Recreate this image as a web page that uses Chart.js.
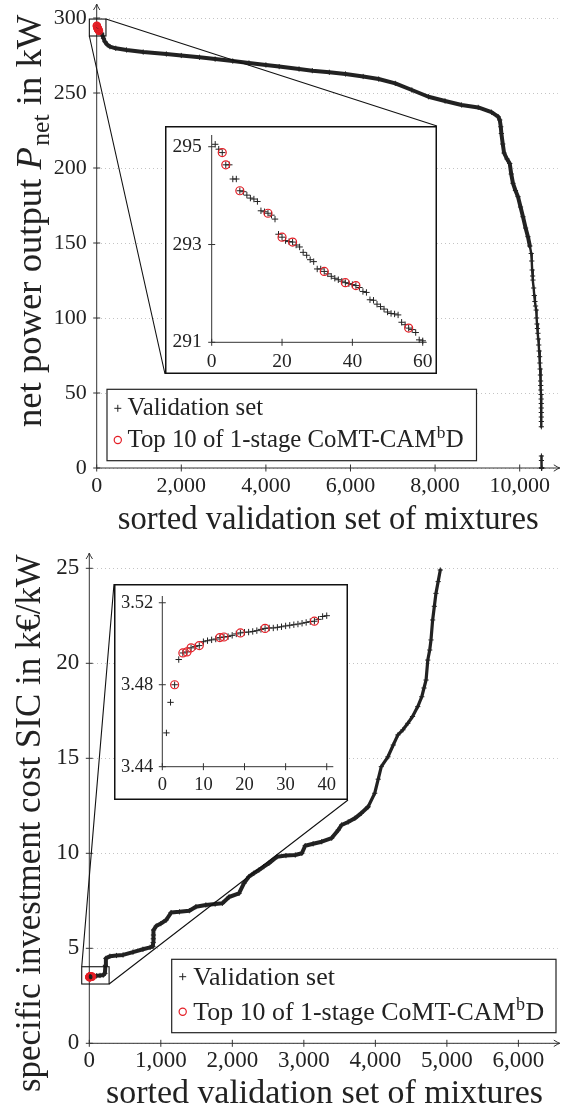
<!DOCTYPE html>
<html>
<head>
<meta charset="utf-8">
<script src="https://cdn.jsdelivr.net/npm/chart.js@4.4.0/dist/chart.umd.min.js"></script>
<style>
html,body{margin:0;padding:0;background:#fff;}
#wrap{position:relative;width:563px;height:1114px;overflow:hidden;background:#fff;}
canvas{position:absolute;display:block;}
</style>
</head>
<body>
<div id="wrap">
  <canvas id="pnetMain"></canvas>
  <canvas id="pnetInset"></canvas>
  <canvas id="sicMain"></canvas>
  <canvas id="sicInset"></canvas>
</div>
<script>
// ================= DATA =================
// --- upper panel: net power output P_net (kW), sorted validation set ---
const pnetHeadIdx = [1,2,3,4,5,6,7,8,9,10,11,12,13,14,15,16,17,18,19,20,21,22,23,24,25,26,27,28,29,30,
                     31,32,33,34,35,36,37,38,39,40,41,42,43,44,45,46,47,48,49,50,51,52,53,54,55,56,57,58,59,60];
const pnetHeadVal = [295.05,294.95,294.88,294.63,294.63,294.34,294.34,294.10,294.08,294.01,
                     293.95,293.93,293.88,293.69,293.67,293.64,293.60,293.52,293.21,293.15,
                     293.08,293.06,293.05,292.99,292.95,292.84,292.78,292.69,292.65,292.50,
                     292.50,292.45,292.40,292.35,292.31,292.28,292.25,292.22,292.20,292.18,
                     292.16,292.12,292.04,292.02,291.87,291.86,291.78,291.73,291.68,291.62,
                     291.59,291.58,291.56,291.41,291.36,291.29,291.26,291.20,291.05,291.03];
const pnetTailIdx = [118,160,195,250,313,450,706,1100,1647,2000,2431,2800,3216,3600,4000,4314,4784,5098,5500,5882,
                     6300,6666,7059,7451,7843,8235,8627,9020,9333,9490,9529,9553,9567,9600,9631,9700,9765,9800,9842,9900,
                     9960,10020,10078,10140,10195,10240,10273,10285,10295,10305,10313,10330,10345,10360,10375,10391,10400,10410,10420,10431,
                     10440,10450,10460,10471,10478,10484,10490,10494,10498,10502,10506,10508,10510,10510,10511,10511,10512,10512,
                     10513,10514,10514,10515,10517,10519,10521];
const pnetTailVal = [289.8,286.5,284.2,282.2,280.9,279.8,278.7,277.3,276.0,275.0,273.8,272.6,271.3,270.0,268.7,267.6,266.0,264.9,263.8,262.7,
                     261.0,259.3,256.4,252.0,247.5,244.7,242.0,240.4,237.2,234.2,232.0,227.5,223.0,216.0,210.0,206.0,203.0,196.0,189.8,185.0,
                     180.9,174.0,167.5,160.0,154.2,148.0,143.0,138.0,132.0,128.0,125.3,120.0,115.0,111.0,108.0,105.3,100.0,96.0,93.0,89.8,
                     86.0,82.0,78.0,74.2,70.0,66.0,62.0,58.0,55.0,52.0,49.0,46.0,43.0,40.0,37.0,34.0,31.0,27.5,
                     null,8.0,5.0,0,0,0,0];
const pnetTop10Idx = [3,4,8,16,20,23,32,38,41,56];
const pnetXTicks = [0,2000,4000,6000,8000,10000];
const pnetYTicks = [0,50,100,150,200,250,300];
const pnetInsetXTicks = [0,20,40,60];
const pnetInsetYTicks = [291,293,295];

// --- lower panel: specific investment cost SIC (k€/kW), sorted validation set ---
const sicHeadIdx = [1,2,3,4,5,6,7,8,9,10,11,12,13,14,15,16,17,18,19,20,
                    21,22,23,24,25,26,27,28,29,30,31,32,33,34,35,36,37,38,39,40];
const sicHeadVal = [3.4565,3.4714,3.4800,3.4923,3.4955,3.4960,3.4980,3.4986,3.4991,3.5010,
                    3.5015,3.5019,3.5023,3.5030,3.5033,3.5035,3.5041,3.5048,3.5053,3.5056,
                    3.5057,3.5060,3.5064,3.5070,3.5075,3.5077,3.5077,3.5080,3.5083,3.5087,
                    3.5090,3.5093,3.5096,3.5100,3.5104,3.5108,3.5110,3.5119,3.5133,3.5137];
const sicTailIdx = [60,100,150,195,218,225,232,288,380,472,611,750,850,889,893,895,897,899,936,1000,
                    1075,1144,1260,1399,1491,1630,1760,1861,1954,2093,2162,2232,2300,2371,2440,2510,2625,2750,2880,2972,
                    3019,3130,3250,3389,3482,3528,3620,3713,3800,3899,3991,4040,4083,4176,4250,4315,4385,4454,4520,4593,
                    4649,4680,4709,4733,4760,4778,4801,4825,4847,4878,4908];
const sicTailVal = [3.52,3.55,3.57,3.59,3.68,4.10,4.47,4.58,4.62,4.65,4.80,4.95,5.05,5.10,5.30,5.50,5.70,5.96,6.17,6.30,
                    6.49,6.88,6.92,6.98,7.19,7.28,7.33,7.37,7.70,7.89,8.42,8.77,8.95,9.12,9.30,9.47,9.82,9.88,9.91,10.00,
                    10.40,10.50,10.61,10.80,11.23,11.49,11.65,11.84,12.10,12.45,13.16,13.90,14.56,15.08,15.70,16.23,16.50,16.84,17.20,17.72,
                    18.24,18.70,19.12,20.17,20.70,21.23,22.28,23.00,23.68,24.30,24.91];
const sicTop10Idx = [3,5,6,7,9,14,15,19,25,37];
const sicXTicks = [0,1000,2000,3000,4000,5000,6000];
const sicYTicks = [0,5,10,15,20,25];
const sicInsetXTicks = [0,10,20,30,40];
const sicInsetYTicks = [3.44,3.48,3.52];

const LABEL_VAL = 'Validation set';
const LABEL_TOP = ['Top 10 of 1-stage CoMT-CAM', 'b', 'D'];

// ================= STYLE / LAYOUT =================
const SERIF = '"Liberation Serif", "DejaVu Serif", serif';
const INK = '#222222';
const AXIS = '#333333';
const RED = 'rgb(228,30,38)';
const GRID = '#c4c4c4';

function pts(idx, val) { return idx.map((x, i) => ({ x: x, y: val[i] })); }
function pick(idx, val, sel) { return sel.map(k => ({ x: k, y: val[idx.indexOf(k)] })); }
const fmtThousands = v => Number(v).toLocaleString('en-US');

function drawYTitle(ctx, parts, baseX, centerY, targetLen) {
  ctx.save();
  let w100 = 0;
  parts.forEach(p => { ctx.font = (p.it ? 'italic ' : '') + (p.sub ? 70 : 100) + 'px ' + SERIF; w100 += ctx.measureText(p.t).width; });
  const s = 100 * targetLen / w100;
  ctx.translate(baseX, centerY);
  ctx.rotate(-Math.PI / 2);
  ctx.fillStyle = INK; ctx.textBaseline = 'alphabetic'; ctx.textAlign = 'left';
  let x = -targetLen / 2;
  parts.forEach(p => {
    const fs = p.sub ? s * 0.7 : s;
    ctx.font = (p.it ? 'italic ' : '') + fs + 'px ' + SERIF;
    ctx.fillText(p.t, x, p.sub ? s * 0.22 : 0);
    x += ctx.measureText(p.t).width + (p.it ? s * 0.04 : 0);
  });
  ctx.restore();
}

function drawXTitle(ctx, text, cx, baseY, targetLen) {
  ctx.save();
  ctx.font = '100px ' + SERIF;
  const s = 100 * targetLen / ctx.measureText(text).width;
  ctx.font = s + 'px ' + SERIF;
  ctx.fillStyle = INK; ctx.textAlign = 'center'; ctx.textBaseline = 'alphabetic';
  ctx.fillText(text, cx, baseY);
  ctx.restore();
}

function drawLegend(ctx, L) {
  ctx.save();
  ctx.fillStyle = '#fff'; ctx.fillRect(L.x, L.y, L.w, L.h);
  ctx.strokeStyle = INK; ctx.lineWidth = 1.2; ctx.strokeRect(L.x, L.y, L.w, L.h);
  ctx.font = '100px ' + SERIF;
  let w = ctx.measureText(LABEL_TOP[0]).width + ctx.measureText(LABEL_TOP[2]).width;
  ctx.font = '70px ' + SERIF; w += ctx.measureText(LABEL_TOP[1]).width;
  const s = 100 * L.target / w;
  ctx.beginPath();
  ctx.moveTo(L.mx - 3.5, L.r1); ctx.lineTo(L.mx + 3.5, L.r1);
  ctx.moveTo(L.mx, L.r1 - 3.5); ctx.lineTo(L.mx, L.r1 + 3.5);
  ctx.lineWidth = 1; ctx.strokeStyle = INK; ctx.stroke();
  ctx.beginPath(); ctx.arc(L.mx, L.r2, 3.6, 0, Math.PI * 2);
  ctx.lineWidth = 1.2; ctx.strokeStyle = RED; ctx.stroke();
  ctx.fillStyle = INK; ctx.textAlign = 'left'; ctx.textBaseline = 'alphabetic';
  ctx.font = s + 'px ' + SERIF;
  ctx.fillText(LABEL_VAL, L.tx, L.b1);
  let x = L.tx;
  ctx.fillText(LABEL_TOP[0], x, L.b2); x += ctx.measureText(LABEL_TOP[0]).width;
  ctx.font = (s * 0.7) + 'px ' + SERIF;
  ctx.fillText(LABEL_TOP[1], x + 0.5, L.b2 - s * 0.38); x += ctx.measureText(LABEL_TOP[1]).width + 1;
  ctx.font = s + 'px ' + SERIF;
  ctx.fillText(LABEL_TOP[2], x, L.b2);
  ctx.restore();
}

function axesPlugin(P) {
  return {
    id: 'pgfAxes',
    beforeDraw(chart) {
      const c = chart.ctx; c.save(); c.fillStyle = '#fff'; c.fillRect(0, 0, chart.width, chart.height); c.restore();
    },
    beforeDatasetsDraw(chart) {
      const c = chart.ctx, a = chart.chartArea, xs = chart.scales.x, ys = chart.scales.y;
      const L = 3.5, ext = P.arrows ? 2 : 0;
      c.save();
      c.strokeStyle = AXIS; c.lineWidth = 1;
      c.beginPath();
      c.moveTo(a.left, a.bottom); c.lineTo(a.right + ext, a.bottom);
      c.moveTo(a.left, a.bottom); c.lineTo(a.left, a.top - ext);
      xs.ticks.forEach(t => { const px = xs.getPixelForValue(t.value); c.moveTo(px, a.bottom - L); c.lineTo(px, a.bottom + L); });
      ys.ticks.forEach(t => { const py = ys.getPixelForValue(t.value); c.moveTo(a.left - L, py); c.lineTo(a.left + L, py); });
      c.stroke();
      if (P.arrows) {
        const tx = a.right + ext, ty = a.top - ext;
        c.beginPath();
        c.moveTo(tx - 6, a.bottom - 3.2); c.quadraticCurveTo(tx - 2, a.bottom - 0.6, tx, a.bottom); c.quadraticCurveTo(tx - 2, a.bottom + 0.6, tx - 6, a.bottom + 3.2);
        c.moveTo(a.left - 3.2, ty + 6); c.quadraticCurveTo(a.left - 0.6, ty + 2, a.left, ty); c.quadraticCurveTo(a.left + 0.6, ty + 2, a.left + 3.2, ty + 6);
        c.stroke();
      }
      c.restore();
    },
    afterDraw(chart) {
      if (P.frame) {
        const c = chart.ctx; c.save(); c.strokeStyle = '#111'; c.lineWidth = 1.5;
        c.strokeRect(0.75, 0.75, chart.width - 1.5, chart.height - 1.5); c.restore();
      }
      if (P.extra) P.extra(chart);
    }
  };
}

function buildChart(id, P) {
  const cv = document.getElementById(id);
  cv.width = P.w; cv.height = P.h;
  cv.style.left = P.left + 'px'; cv.style.top = P.top + 'px';
  cv.style.width = P.w + 'px'; cv.style.height = P.h + 'px';
  return new Chart(cv, {
    type: 'scatter',
    data: { datasets: P.datasets },
    options: {
      responsive: false, animation: false, devicePixelRatio: 1, events: [],
      layout: { padding: { left: 0, top: P.area.top, right: P.w - P.area.right, bottom: 0 } },
      plugins: { legend: { display: false }, tooltip: { enabled: false }, title: { display: false } },
      scales: {
        x: {
          type: 'linear', min: P.xMin, max: P.xMax,
          afterBuildTicks: s => { s.ticks = P.xTicks.map(v => ({ value: v })); },
          afterFit: s => { s.height = P.h - P.area.bottom; s.paddingLeft = 0; s.paddingRight = 0; },
          grid: { display: false, drawTicks: false }, border: { display: false },
          ticks: { autoSkip: false, maxRotation: 0, minRotation: 0, padding: P.xPad, color: INK,
                   font: { family: SERIF, size: P.tickSize }, callback: P.xFmt }
        },
        y: {
          type: 'linear', min: P.yMin, max: P.yMax,
          afterBuildTicks: s => { s.ticks = P.yTicks.map(v => ({ value: v })); },
          afterFit: s => { s.width = P.area.left; s.paddingTop = 0; s.paddingBottom = 0; },
          grid: { display: !!P.grid, drawTicks: false, color: GRID, lineWidth: 1 },
          border: { display: false, dash: [1, 3] },
          ticks: { autoSkip: false, padding: P.yPad, color: INK,
                   font: { family: SERIF, size: P.tickSize }, callback: P.yFmt }
        }
      }
    },
    plugins: [axesPlugin(P)]
  });
}

function validationSet(data, lw, thinW, thin) {
  return {
    label: LABEL_VAL, data: data, order: 1, clip: false,
    showLine: true, borderColor: INK, borderWidth: lw, borderCapStyle: 'round', borderJoinStyle: 'round',
    segment: { borderWidth: c => thin(c) ? thinW : lw },
    pointStyle: 'cross', pointRadius: 2.6, pointBorderWidth: 1, pointBorderColor: INK, pointBackgroundColor: INK
  };
}
function crossSet(data, r) {
  return { label: LABEL_VAL, data: data, order: 1, clip: false, showLine: false,
           pointStyle: 'cross', pointRadius: r, pointBorderWidth: 1, pointBorderColor: INK, pointBackgroundColor: INK };
}
function top10Set(data, r) {
  return { label: LABEL_TOP.join(''), data: data, order: 0, clip: false, showLine: false,
           pointStyle: 'circle', pointRadius: r, pointBorderWidth: 1.2, pointBorderColor: RED,
           pointBackgroundColor: 'rgba(255,255,255,0)' };
}

// ---------- upper panel ----------
const pnetIdx = pnetHeadIdx.concat(pnetTailIdx);
const pnetVal = pnetHeadVal.concat(pnetTailVal);
const PNET_INSET = { left: 165, top: 126, w: 272, h: 248 };
const PNET_SPY = { x0: -174, x1: 219, y0: 288, y1: 299.3 };

buildChart('pnetMain', {
  left: 0, top: 0, w: 563, h: 540,
  area: { left: 96.7, top: 6, right: 560, bottom: 468 },
  xMin: 0, xMax: 10901, yMin: 0, yMax: 308,
  xTicks: pnetXTicks, yTicks: pnetYTicks, xFmt: fmtThousands, yFmt: v => String(v),
  tickSize: 22, xPad: 5, yPad: 10, grid: true, arrows: true,
  datasets: [
    top10Set(pick(pnetIdx, pnetVal, pnetTop10Idx), 3.6),
    validationSet(pts(pnetIdx, pnetVal), 4, 2.4, c => c.p1.parsed.y < 146)
  ],
  extra(chart) {
    const c = chart.ctx, xs = chart.scales.x, ys = chart.scales.y;
    const X0 = xs.getPixelForValue(PNET_SPY.x0), X1 = xs.getPixelForValue(PNET_SPY.x1);
    const Y0 = ys.getPixelForValue(PNET_SPY.y0), Y1 = ys.getPixelForValue(PNET_SPY.y1);
    c.save(); c.strokeStyle = '#111'; c.lineWidth = 1.1;
    c.strokeRect(X0, Y1, X1 - X0, Y0 - Y1);
    c.beginPath();
    c.moveTo(X1, Y1); c.lineTo(PNET_INSET.left + PNET_INSET.w, PNET_INSET.top);
    c.moveTo(X0, Y0); c.lineTo(PNET_INSET.left, PNET_INSET.top + PNET_INSET.h);
    c.stroke(); c.restore();
    drawLegend(c, { x: 107, y: 389.3, w: 369.5, h: 71.4, mx: 117.8, tx: 127.5, r1: 408.3, r2: 440, b1: 415, b2: 447.3, target: 335.5 });
    drawXTitle(c, 'sorted validation set of mixtures', 328.2, 529, 421);
    drawYTitle(c, [{ t: 'net power output ' }, { t: 'P', it: true }, { t: 'net', sub: true }, { t: ' in kW' }], 41, 221.5, 411);
  }
});

buildChart('pnetInset', {
  left: PNET_INSET.left, top: PNET_INSET.top, w: PNET_INSET.w, h: PNET_INSET.h,
  area: { left: 46.7, top: 9, right: 261.7, bottom: 216.3 },
  xMin: 0, xMax: 61.13, yMin: 291, yMax: 295.24,
  xTicks: pnetInsetXTicks, yTicks: pnetInsetYTicks, xFmt: v => String(v), yFmt: v => String(v),
  tickSize: 19.5, xPad: 7.5, yPad: 10, grid: false, arrows: false, frame: true,
  datasets: [
    top10Set(pick(pnetHeadIdx, pnetHeadVal, pnetTop10Idx), 4),
    crossSet(pts(pnetHeadIdx, pnetHeadVal), 3.2)
  ]
});

// ---------- lower panel ----------
const sicIdx = sicHeadIdx.concat(sicTailIdx);
const sicVal = sicHeadVal.concat(sicTailVal);
const SIC_TOP = 545;
const SIC_INSET = { left: 114, top: 584, w: 234, h: 216 };
const SIC_SPY = { x0: -106, x1: 277, y0: 3.12, y1: 4.03 };

buildChart('sicMain', {
  left: 0, top: SIC_TOP, w: 563, h: 569,
  area: { left: 89.3, top: 10, right: 561, bottom: 498.3 },
  xMin: 0, xMax: 6551, yMin: 0, yMax: 25.7,
  xTicks: sicXTicks, yTicks: sicYTicks, xFmt: fmtThousands, yFmt: v => String(v),
  tickSize: 23, xPad: 4, yPad: 10, grid: true, arrows: true,
  datasets: [
    top10Set(pick(sicIdx, sicVal, sicTop10Idx), 3.8),
    validationSet(pts(sicIdx, sicVal), 4, 3.2, c => c.p1.parsed.y > 13)
  ],
  extra(chart) {
    const c = chart.ctx, xs = chart.scales.x, ys = chart.scales.y;
    const X0 = xs.getPixelForValue(SIC_SPY.x0), X1 = xs.getPixelForValue(SIC_SPY.x1);
    const Y0 = ys.getPixelForValue(SIC_SPY.y0), Y1 = ys.getPixelForValue(SIC_SPY.y1);
    c.save(); c.strokeStyle = '#111'; c.lineWidth = 1.1;
    c.strokeRect(X0, Y1, X1 - X0, Y0 - Y1);
    c.beginPath();
    c.moveTo(X0, Y1); c.lineTo(SIC_INSET.left, SIC_INSET.top - SIC_TOP);
    c.moveTo(X1, Y0); c.lineTo(SIC_INSET.left + SIC_INSET.w, SIC_INSET.top + SIC_INSET.h - SIC_TOP);
    c.stroke(); c.restore();
    drawLegend(c, { x: 171.7, y: 414.3, w: 384.3, h: 73.4, mx: 182.7, tx: 193.3, r1: 431.7, r2: 466.7, b1: 440, b2: 475, target: 350 });
    drawXTitle(c, 'sorted validation set of mixtures', 324.5, 1103 - SIC_TOP, 437);
    drawYTitle(c, [{ t: 'specific investment cost SIC in k€/kW' }], 40, 823 - SIC_TOP, 538);
  }
});

buildChart('sicInset', {
  left: SIC_INSET.left, top: SIC_INSET.top, w: SIC_INSET.w, h: SIC_INSET.h,
  area: { left: 48.3, top: 12, right: 219.3, bottom: 182.7 },
  xMin: 0, xMax: 41.6, yMin: 3.44, yMax: 3.5233,
  xTicks: sicInsetXTicks, yTicks: sicInsetYTicks, xFmt: v => String(v), yFmt: v => Number(v).toFixed(2),
  tickSize: 18.5, xPad: 7, yPad: 9, grid: false, arrows: false, frame: true,
  datasets: [
    top10Set(pick(sicHeadIdx, sicHeadVal, sicTop10Idx), 4),
    crossSet(pts(sicHeadIdx, sicHeadVal), 3.2)
  ]
});
</script>
</body>
</html>
